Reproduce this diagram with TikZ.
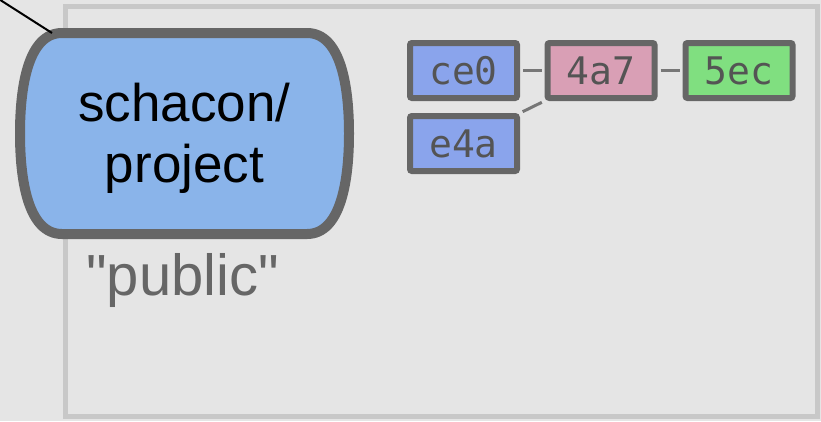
\documentclass[tikz,border=0pt]{standalone}
\usepackage{fontspec}
\setmainfont{Liberation Sans}
\newfontfamily\hashfont{DejaVu Sans Mono}
\usepackage{xcolor}
\usepackage{tikz}
\definecolor{bgcol}{HTML}{E5E5E5}
\definecolor{framecol}{HTML}{C8C8C8}
\definecolor{edgecol}{HTML}{666666}
\definecolor{linkcol}{HTML}{777777}
\definecolor{repocol}{HTML}{8AB4EA}
\definecolor{cblue}{HTML}{8AA4EC}
\definecolor{cpink}{HTML}{D99FB5}
\definecolor{cgreen}{HTML}{80DF80}
\tikzset{
  commit/.style={draw=edgecol, line width=6pt, rounded corners=2pt,
    minimum width=107pt, minimum height=55pt, inner sep=0pt,
    text=black!67, font=\hashfont\fontsize{38}{40}\selectfont},
  link/.style={draw=linkcol, line width=3pt, shorten <=3pt, shorten >=3pt}
}

\begin{document}
\begin{tikzpicture}[x=1pt,y=-1pt]
  \fill[bgcol] (0,0) rectangle (821,421);
  \useasboundingbox (0,0) rectangle (821,421);
  \draw[framecol, line width=5pt] (65,6) rectangle (817,416);
  % repository
  \draw[edgecol, line width=10pt, fill=repocol]
    (62,33) -- (307,33) .. controls (342,33) and (349,90) .. (349,133.5)
    .. controls (349,177) and (342,234) .. (307,234) -- (62,234)
    .. controls (27,234) and (20,177) .. (20,133.5)
    .. controls (20,90) and (27,33) .. (62,33) -- cycle;
  \node[align=center, inner sep=0pt, font=\fontsize{53}{61}\selectfont] (repo) at (184.5,138.7) {schacon/\\project};
  \coordinate (remote) at (-6,-4);
  \coordinate (repo edge) at (52,33);
  \draw[black, line width=2pt] (remote) -- (repo edge);
  \node[anchor=base west, inner sep=0pt, text=edgecol, font=\fontsize{58}{60}\selectfont] (pub) at (86,295) {\textquotedbl public\textquotedbl};
  % commits
  \foreach \n/\h/\x/\c in {ce0/ce0/463.5/cblue,c4a7/4a7/601/cpink,c5ec/5ec/739/cgreen}{
    \node[commit, fill=\c] (\n) at (\x,70.5) {\h};
  }
  \node[commit, fill=cblue] (ce4a) at (463.5,143.5) {e4a};
  \draw[link] (ce0) -- (c4a7);
  \draw[link] (c4a7) -- (c5ec);
  \draw[link] (ce4a.north east) -- (c4a7.south west);
\end{tikzpicture}
\end{document}
